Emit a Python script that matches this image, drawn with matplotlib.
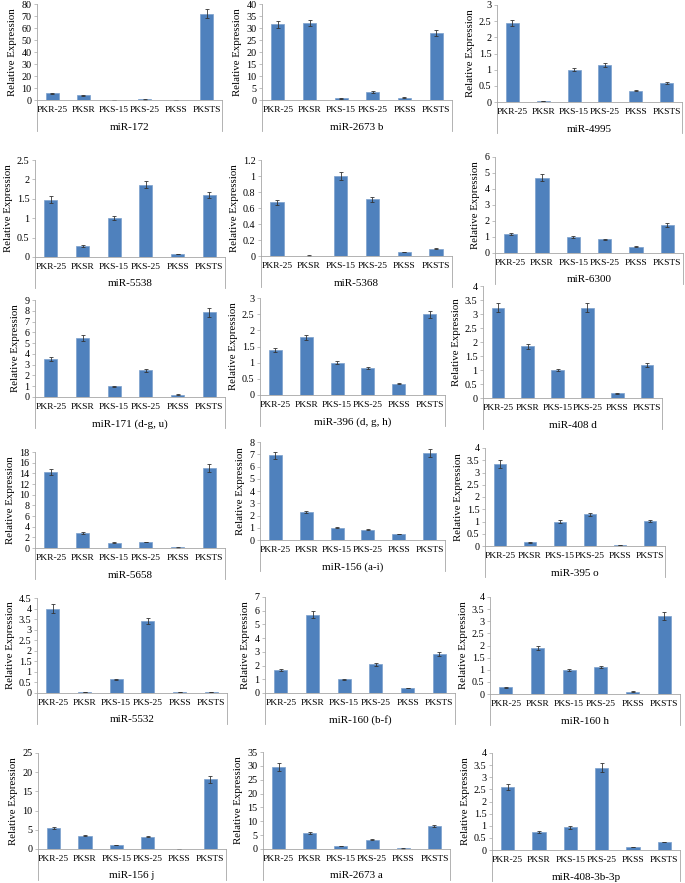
import matplotlib.pyplot as plt
from matplotlib.ticker import FuncFormatter

samples = ["PKR-25", "PKSR", "PKS-15", "PKS-25", "PKSS", "PKSTS"]

mirnas = ["miR-172", "miR-2673 b", "miR-4995",
          "miR-5538", "miR-5368", "miR-6300",
          "miR-171 (d-g, u)", "miR-396 (d, g, h)", "miR-408 d",
          "miR-5658", "miR-156 (a-i)", "miR-395 o",
          "miR-5532", "miR-160 (b-f)", "miR-160 h",
          "miR-156 j", "miR-2673 a", "miR-408-3b-3p"]

expr_172 = [5.5, 3.8, 0.3, 0.5, 0.3, 72.0]
expr_2673b = [31.5, 32.0, 0.7, 3.3, 1.0, 27.8]
expr_4995 = [2.45, 0.03, 1.0, 1.15, 0.35, 0.58]
expr_5538 = [1.48, 0.28, 1.0, 1.86, 0.08, 1.6]
expr_5368 = [0.67, 0.005, 1.0, 0.71, 0.05, 0.09]
expr_6300 = [1.2, 4.7, 1.0, 0.85, 0.4, 1.75]
expr_171 = [3.5, 5.45, 1.0, 2.47, 0.22, 7.85]
expr_396 = [1.4, 1.78, 1.0, 0.83, 0.35, 2.5]
expr_408d = [3.23, 1.85, 1.0, 3.23, 0.17, 1.18]
expr_5658 = [14.2, 2.8, 1.0, 1.1, 0.1, 15.0]
expr_156ai = [6.9, 2.3, 1.0, 0.85, 0.5, 7.1]
expr_395o = [3.35, 0.15, 1.0, 1.3, 0.05, 1.02]
expr_5532 = [4.0, 0.05, 0.65, 3.4, 0.03, 0.05]
expr_160bf = [1.7, 5.7, 1.0, 2.1, 0.35, 2.85]
expr_160h = [0.28, 1.9, 1.0, 1.12, 0.1, 3.22]
expr_156j = [5.4, 3.5, 1.0, 3.2, 0.05, 18.2]
expr_2673a = [29.5, 5.8, 1.0, 3.3, 0.2, 8.3]
expr_408_3b = [2.6, 0.76, 0.93, 3.4, 0.13, 0.33]

err_172 = [0.5, 0.4, 0.1, 0.1, 0.1, 3.5]
err_2673b = [1.5, 1.3, 0.1, 0.3, 0.2, 1.2]
err_4995 = [0.1, 0.01, 0.05, 0.06, 0.02, 0.03]
err_5538 = [0.08, 0.02, 0.05, 0.09, 0.01, 0.08]
err_5368 = [0.03, 0.002, 0.05, 0.03, 0.005, 0.005]
err_6300 = [0.08, 0.22, 0.05, 0.05, 0.03, 0.1]
err_171 = [0.18, 0.3, 0.05, 0.15, 0.02, 0.4]
err_396 = [0.06, 0.09, 0.05, 0.04, 0.02, 0.11]
err_408d = [0.15, 0.09, 0.05, 0.15, 0.01, 0.06]
err_5658 = [0.6, 0.15, 0.05, 0.06, 0.01, 0.7]
err_156ai = [0.3, 0.1, 0.05, 0.05, 0.03, 0.3]
err_395o = [0.15, 0.01, 0.05, 0.06, 0.005, 0.05]
err_5532 = [0.2, 0.005, 0.03, 0.15, 0.003, 0.005]
err_160bf = [0.08, 0.25, 0.05, 0.1, 0.02, 0.12]
err_160h = [0.02, 0.08, 0.05, 0.05, 0.01, 0.15]
err_156j = [0.3, 0.15, 0.05, 0.15, 0.01, 0.9]
err_2673a = [1.5, 0.3, 0.05, 0.2, 0.02, 0.4]
err_408_3b = [0.13, 0.04, 0.05, 0.17, 0.01, 0.02]

y_max = [80, 40, 3, 2.5, 1.2, 6, 9, 3, 4, 18, 8, 4, 4.5, 7, 4, 25, 35, 4]
y_step = [10, 5, 0.5, 0.5, 0.2, 1, 1, 0.5, 0.5, 2, 1, 0.5, 0.5, 1, 0.5, 5, 5, 0.5]

values = [expr_172, expr_2673b, expr_4995, expr_5538, expr_5368, expr_6300,
          expr_171, expr_396, expr_408d, expr_5658, expr_156ai, expr_395o,
          expr_5532, expr_160bf, expr_160h, expr_156j, expr_2673a, expr_408_3b]
errors = [err_172, err_2673b, err_4995, err_5538, err_5368, err_6300,
          err_171, err_396, err_408d, err_5658, err_156ai, err_395o,
          err_5532, err_160bf, err_160h, err_156j, err_2673a, err_408_3b]

# plot area boxes in pixels: left, right, top, baseline
boxes = [(37, 222, 4, 100), (262, 452, 4, 100), (497, 682, 5, 102),
         (35, 225, 160, 257), (261, 452, 160, 256), (495, 683, 157, 253),
         (35, 225, 300, 397), (260, 445, 298, 395), (483, 662, 286, 398),
         (35, 225, 452, 548), (260, 445, 442, 540), (485, 665, 448, 546),
         (37, 227, 598, 693), (265, 455, 597, 693), (490, 680, 597, 694),
         (38, 226, 753, 849), (263, 450, 752, 849), (492, 680, 753, 850)]

W, H = 685, 883
plt.rcParams['font.family'] = ['Liberation Serif', 'DejaVu Serif']
fig = plt.figure(figsize=(W / 100, H / 100), dpi=100)

bar_color = "#4F81BD"
axis_gray = "#A6A6A6"
x = list(range(len(samples)))

for i in range(len(mirnas)):
  l, r, t, b = boxes[i]
  ax = fig.add_axes([l / W, 1 - b / H, (r - l) / W, (b - t) / H])
  ax.bar(x, values[i], width=0.42, color=bar_color, edgecolor="#7BA0CD", linewidth=0.5,
         yerr=errors[i], error_kw=dict(ecolor="#333333", elinewidth=0.6, capsize=1.6, capthick=0.6))
  ax.set_xlim(-0.5, len(samples) - 0.5)
  ax.set_ylim(0, y_max[i])
  n = int(round(y_max[i] / y_step[i]))
  ax.set_yticks([k * y_step[i] for k in range(n + 1)])
  ax.yaxis.set_major_formatter(FuncFormatter(lambda v, p: f"{v:g}"))
  ax.set_xticks(x)
  ax.set_xticklabels(samples, fontsize=6.8)
  ax.tick_params(axis='y', labelsize=7.3, length=2, width=0.5, color=axis_gray, pad=2)
  ax.tick_params(axis='x', length=0, pad=4)
  for s in ["top", "right"]:
    ax.spines[s].set_visible(False)
  ax.spines["left"].set_color(axis_gray)
  ax.spines["left"].set_linewidth(0.6)
  ax.spines["bottom"].set_color(axis_gray)
  ax.spines["bottom"].set_linewidth(0.6)
  ax.set_ylabel("Relative Expression", fontsize=7.8, labelpad=3)
  # category axis extension like the spreadsheet style
  ext = 31 / (b - t)
  ax.plot([0, 0], [0, -ext], transform=ax.transAxes, color=axis_gray, lw=0.6, clip_on=False)
  ax.plot([1, 1], [0, -ext], transform=ax.transAxes, color=axis_gray, lw=0.6, clip_on=False)
  ax.text(0.5, -27 / (b - t), mirnas[i], transform=ax.transAxes, ha="center", va="center", fontsize=8)

plt.savefig("out.png", dpi=100)
plt.close()
